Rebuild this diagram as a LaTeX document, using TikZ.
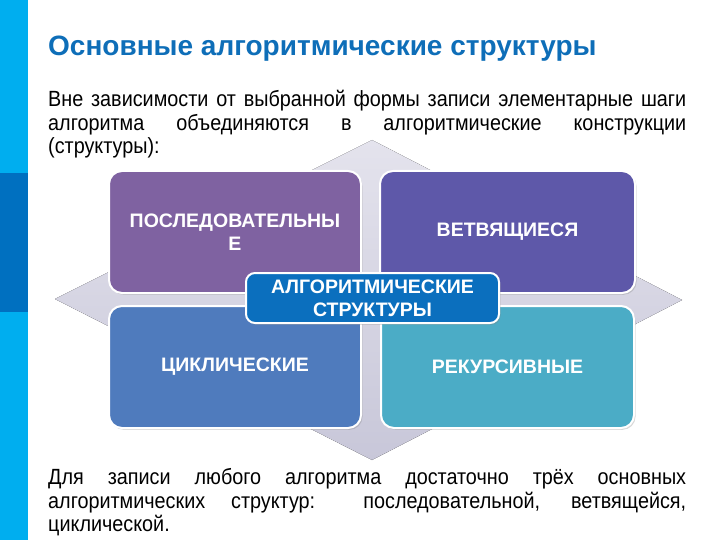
\documentclass[tikz,border=0pt]{standalone}
\usepackage{fontspec}
\setmainfont{Liberation Sans}
\newfontfamily\narrowfont{Liberation Sans}[FakeStretch=0.9]
\usetikzlibrary{shadows}
\definecolor{barlight}{HTML}{00AEEF}
\definecolor{bardark}{HTML}{0070C0}
\definecolor{titleblue}{HTML}{0E6EB8}
\definecolor{cpurple}{HTML}{7F62A1}
\definecolor{cviolet}{HTML}{5E58A9}
\definecolor{cblue}{HTML}{4F7BBD}
\definecolor{cteal}{HTML}{4BACC6}
\definecolor{ccenter}{HTML}{0B6FBE}
\definecolor{dtop}{HTML}{E4E3ED}
\definecolor{dbot}{HTML}{C8C7D9}
\tikzset{
  card/.style={draw=white, line width=2pt, rounded corners=13pt, inner sep=4pt,
    minimum width=252pt, minimum height=122pt, align=center, text=white,
    font=\bfseries\fontsize{19.5}{23}\selectfont,
    drop shadow={shadow xshift=1.5pt, shadow yshift=-1.8pt, opacity=0.3}},
  bodyline/.style={anchor=base west, inner sep=0pt, font=\narrowfont\fontsize{22}{24}\selectfont}
}
\begin{document}
\begin{tikzpicture}[x=1pt,y=-1pt]
\useasboundingbox (0,0) rectangle (720,540);
% left bar
\fill[barlight] (0,0) rectangle (28,173);
\fill[bardark] (0,173) rectangle (28,312);
\fill[barlight] (0,312) rectangle (28,540);
% title
\node[anchor=base west, inner sep=0pt, text=titleblue, font=\bfseries\fontsize{28}{32}\selectfont] (title) at (48,56) {Основные алгоритмические структуры};
% intro text
\node[bodyline] (p1) at (48,107) {\makebox[638pt][s]{Вне зависимости от выбранной формы записи элементарные шаги}};
\node[bodyline] (p2) at (48,130.5) {\makebox[638pt][s]{алгоритма объединяются в алгоритмические конструкции}};
\node[bodyline] (p3) at (48,154) {(структуры):};
% diamond background
\fill[top color=dtop, bottom color=dbot] (372,140) -- (682,300) -- (372,460) -- (55,299) -- cycle;
% cards
\node[card, fill=cpurple] (seq) at (235,232) {ПОСЛЕДОВАТЕЛЬНЫ\\Е};
\node[card, fill=cviolet, minimum width=255pt] (branch) at (507.5,232) {ВЕТВЯЩИЕСЯ};
\node[card, fill=cblue] (loop) at (235,367) {ЦИКЛИЧЕСКИЕ};
\node[card, fill=cteal, minimum width=253pt] (rec) at (507.5,367) {РЕКУРСИВНЫЕ};
\node[card, fill=ccenter, minimum width=253pt, minimum height=50pt, rounded corners=9pt] (center) at (372.5,298) {АЛГОРИТМИЧЕСКИЕ\\СТРУКТУРЫ};
% closing text
\node[bodyline] (q1) at (48,484.5) {\makebox[638pt][s]{Для записи любого алгоритма достаточно трёх основных}};
\node[bodyline] (q2) at (48,508) {\makebox[638pt][s]{алгоритмических структур: последовательной, ветвящейся,}};
\node[bodyline] (q3) at (48,531.5) {циклической.};
\end{tikzpicture}
\end{document}
